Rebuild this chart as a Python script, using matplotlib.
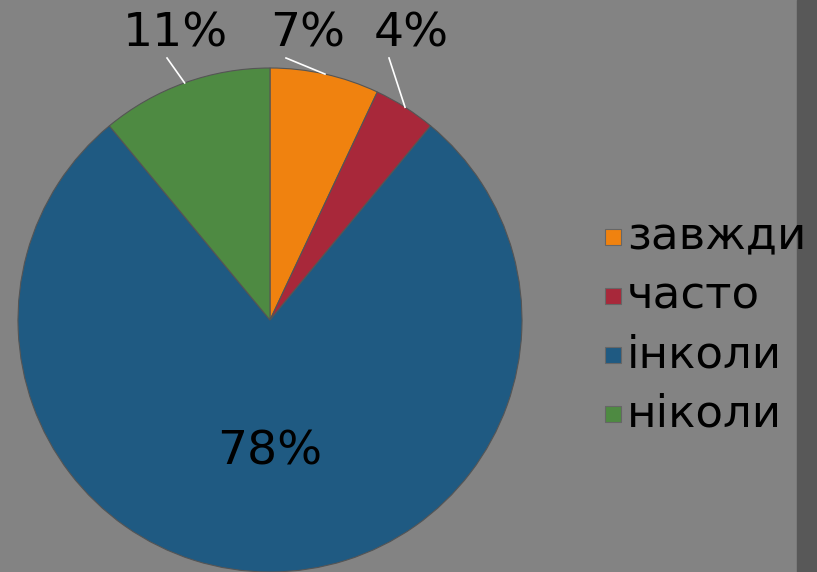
import numpy as np
import matplotlib
matplotlib.use("Agg")
import matplotlib.pyplot as plt
from matplotlib.patches import Rectangle

categories = ["завжди", "часто", "інколи", "ніколи"]
values = [7, 4, 78, 11]
colors = ["#F0820F", "#A8283A", "#1F5A82", "#4E8A42"]

W, H = 817, 572
fig = plt.figure(figsize=(W / 100, H / 100), dpi=100)
fig.patch.set_facecolor("#838383")
ax = fig.add_axes([0, 0, 1, 1])

# darker torn strip on the right edge
ax.add_patch(Rectangle((797, 0), 20, H, color="#585858", zorder=0))

cx, cy, r = 270, H - 320, 252
wedges, _ = ax.pie(values, colors=colors, startangle=90, counterclock=False,
                   center=(cx, cy), radius=r, frame=True,
                   wedgeprops=dict(edgecolor="#555555", linewidth=0.8))
ax.set_xlim(0, W)
ax.set_ylim(0, H)
ax.set_aspect("equal")
ax.axis("off")

font = "DejaVu Sans"
fs = 34
# outside labels placed in a row at the top with white leader lines
label_x = {0: 308, 1: 411, 3: 175}
line_start = {0: 286, 1: 389, 3: 167}
for i, w in enumerate(wedges):
    mid = np.deg2rad((w.theta1 + w.theta2) / 2)
    txt = f"{values[i]}%"
    if i == 2:
        ax.text(cx, H - 452, txt, ha="center", va="center", fontsize=fs,
                family=font, color="black")
        continue
    ex, ey = cx + r * np.cos(mid), cy + r * np.sin(mid)
    ax.plot([line_start[i], ex], [H - 58, ey], color="white", lw=1.2, zorder=5)
    ax.text(label_x[i], H - 34, txt, ha="center", va="center", fontsize=fs,
            family=font, color="black")

# legend
for i, c in enumerate(categories):
    y = H - (237 + i * 59)
    ax.add_patch(Rectangle((605, y - 8), 16, 16, facecolor=colors[i],
                           edgecolor="#666666", lw=0.8))
    ax.text(627, y, c, ha="left", va="center", fontsize=32.5, family=font,
            color="black")

fig.savefig("out.png", dpi=100, facecolor=fig.get_facecolor())
